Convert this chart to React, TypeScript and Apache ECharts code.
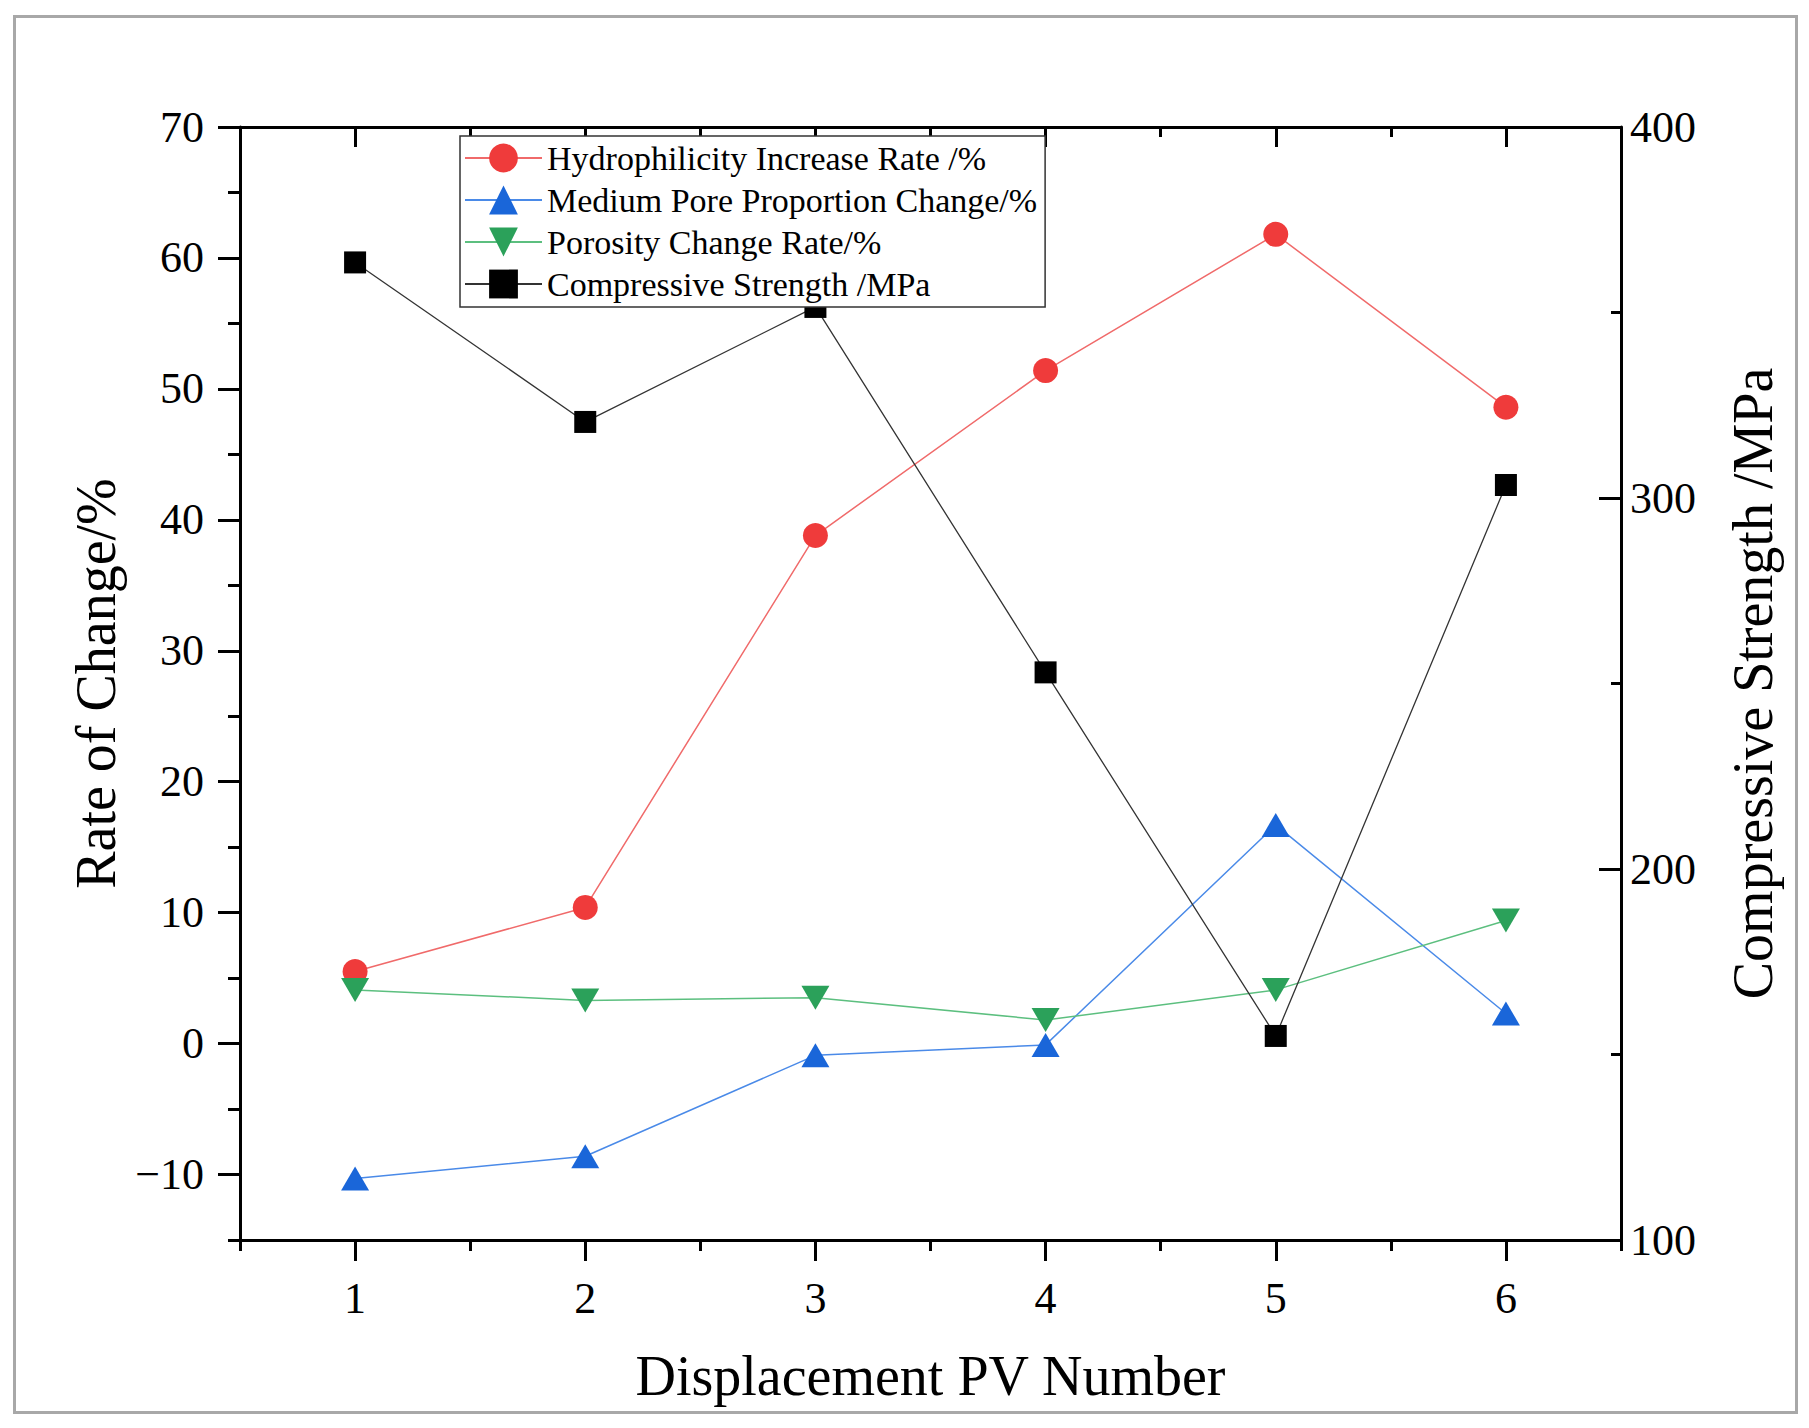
import { useEffect, useRef } from 'react';
import * as echarts from 'echarts';

// Displacement PV number on the x axis
const pvNumbers = [1, 2, 3, 4, 5, 6];

// Left axis series (%)
const hydrophilicityRate = [5.5, 10.4, 38.8, 51.4, 61.8, 48.6];
const mediumPoreChange = [-10.3, -8.6, -0.9, -0.1, 16.7, 2.3];
const porosityChangeRate = [4.1, 3.3, 3.5, 1.8, 4.1, 9.4];

// Right axis series (MPa)
const compressiveStrength = [363.5, 320.5, 351.5, 253, 155, 303.5];

const leftMajorTicks = [-10, 0, 10, 20, 30, 40, 50, 60, 70];
const leftMinorTicks = [-15, -5, 5, 15, 25, 35, 45, 55, 65];
const rightMajorTicks = [100, 200, 300, 400];
const rightMinorTicks = [150, 250, 350];
const xMajorTicks = [1, 2, 3, 4, 5, 6];
const xMinorTicks = [0.5, 1.5, 2.5, 3.5, 4.5, 5.5, 6.5];

const FONT = "'Liberation Serif', 'Times New Roman', serif";

const pairs = (ys: number[]) => ys.map((y, i) => [pvNumbers[i], y]);
const withMinus = (v: number) => String(v).replace('-', '\u2212');

export default function App() {
    const chartRef = useRef<HTMLDivElement>(null);

    useEffect(() => {
        if (!chartRef.current) return;
        document.body.style.margin = '0';
        const chart = echarts.init(chartRef.current, null, { renderer: 'svg' });

        const axisLine = { show: true, onZero: false, lineStyle: { color: '#000', width: 3 } };
        const noLine = { show: false, onZero: false };
        const tickLabel = { color: '#000', fontSize: 44, fontFamily: FONT };
        const nameStyle = { color: '#000', fontSize: 56, fontFamily: FONT };
        const tickStyle = { width: 3, color: '#000' };

        const xBase = {
            type: 'value' as const,
            min: 0.5,
            max: 6.5,
            splitLine: { show: false },
        };
        const yLeftBase = {
            type: 'value' as const,
            position: 'left' as const,
            min: -15,
            max: 70,
            splitLine: { show: false },
        };
        const yRightBase = {
            type: 'value' as const,
            position: 'right' as const,
            min: 100,
            max: 400,
            splitLine: { show: false },
        };

        const option: echarts.EChartsOption = {
            animation: false,
            backgroundColor: '#fff',
            grid: { left: 240, top: 127, right: 188, bottom: 188, containLabel: false },
            legend: {
                orient: 'vertical',
                left: 460,
                top: 136,
                z: 10,
                backgroundColor: '#fff',
                borderColor: '#333',
                borderWidth: 1.5,
                borderRadius: 0,
                padding: [5, 8, 6, 4],
                itemWidth: 77,
                itemHeight: 36,
                itemGap: 8,
                textStyle: { color: '#000', fontSize: 34, fontFamily: FONT, lineHeight: 34 },
                data: [
                    'Hydrophilicity Increase Rate /%',
                    'Medium Pore Proportion Change/%',
                    'Porosity Change Rate/%',
                    'Compressive Strength /MPa',
                ],
            },
            xAxis: [
                {
                    ...xBase,
                    position: 'bottom',
                    axisLine,
                    axisTick: { show: true, length: 21, customValues: xMajorTicks, lineStyle: tickStyle },
                    axisLabel: { ...tickLabel, margin: 36, customValues: xMajorTicks },
                    name: 'Displacement PV Number',
                    nameLocation: 'middle',
                    nameGap: 108,
                    nameTextStyle: nameStyle,
                },
                {
                    ...xBase,
                    position: 'bottom',
                    axisLine: noLine,
                    axisTick: { show: true, length: 11, customValues: xMinorTicks, lineStyle: tickStyle },
                    axisLabel: { show: false },
                },
                {
                    ...xBase,
                    position: 'top',
                    axisLine,
                    axisTick: { show: true, inside: true, length: 20, customValues: xMajorTicks, lineStyle: tickStyle },
                    axisLabel: { show: false },
                },
                {
                    ...xBase,
                    position: 'top',
                    axisLine: noLine,
                    axisTick: { show: true, inside: true, length: 10, customValues: xMinorTicks, lineStyle: tickStyle },
                    axisLabel: { show: false },
                },
            ],
            yAxis: [
                {
                    ...yLeftBase,
                    axisLine,
                    axisTick: { show: true, length: 22, customValues: leftMajorTicks, lineStyle: tickStyle },
                    axisLabel: { ...tickLabel, margin: 36, customValues: leftMajorTicks, formatter: withMinus },
                    name: 'Rate of Change/%',
                    nameLocation: 'middle',
                    nameRotate: 90,
                    nameGap: 112,
                    nameTextStyle: nameStyle,
                },
                {
                    ...yLeftBase,
                    axisLine: noLine,
                    axisTick: { show: true, length: 12, customValues: leftMinorTicks, lineStyle: tickStyle },
                    axisLabel: { show: false },
                },
                {
                    ...yRightBase,
                    axisLine,
                    axisTick: { show: true, inside: true, length: 22, customValues: rightMajorTicks, lineStyle: tickStyle },
                    axisLabel: { ...tickLabel, margin: 9, customValues: rightMajorTicks },
                    name: 'Compressive Strength /MPa',
                    nameLocation: 'middle',
                    nameRotate: 90,
                    nameGap: 104,
                    nameTextStyle: nameStyle,
                },
                {
                    ...yRightBase,
                    axisLine: noLine,
                    axisTick: { show: true, inside: true, length: 10, customValues: rightMinorTicks, lineStyle: tickStyle },
                    axisLabel: { show: false },
                },
            ],
            series: [
                {
                    name: 'Hydrophilicity Increase Rate /%',
                    type: 'line',
                    xAxisIndex: 0,
                    yAxisIndex: 0,
                    data: pairs(hydrophilicityRate),
                    symbol: 'circle',
                    symbolSize: 25,
                    itemStyle: { color: '#ef3b3b' },
                    lineStyle: { color: '#f06a6a', width: 1.5 },
                    z: 3,
                },
                {
                    name: 'Medium Pore Proportion Change/%',
                    type: 'line',
                    xAxisIndex: 0,
                    yAxisIndex: 0,
                    data: pairs(mediumPoreChange),
                    symbol: 'triangle',
                    symbolSize: [28, 24],
                    itemStyle: { color: '#1a66d9' },
                    lineStyle: { color: '#4a8ae8', width: 1.5 },
                    z: 3,
                },
                {
                    name: 'Porosity Change Rate/%',
                    type: 'line',
                    xAxisIndex: 0,
                    yAxisIndex: 0,
                    data: pairs(porosityChangeRate),
                    symbol: 'triangle',
                    symbolRotate: 180,
                    symbolSize: [28, 24],
                    itemStyle: { color: '#2ba15a' },
                    lineStyle: { color: '#5cbf7f', width: 1.5 },
                    z: 3,
                },
                {
                    name: 'Compressive Strength /MPa',
                    type: 'line',
                    xAxisIndex: 0,
                    yAxisIndex: 2,
                    data: pairs(compressiveStrength),
                    symbol: 'rect',
                    symbolSize: 22,
                    itemStyle: { color: '#000' },
                    lineStyle: { color: '#333', width: 1.3 },
                    z: 3,
                },
            ],
            graphic: [
                {
                    type: 'rect',
                    left: 12,
                    top: 14,
                    shape: { width: 1782, height: 1396 },
                    style: { fill: 'none', stroke: '#a8a8a8', lineWidth: 3 },
                    silent: true,
                },
            ],
        };

        chart.setOption(option);

        return () => {
            chart.dispose();
        };
    }, []);

    return <div ref={chartRef} style={{ width: '1809px', height: '1428px' }} />;
}
